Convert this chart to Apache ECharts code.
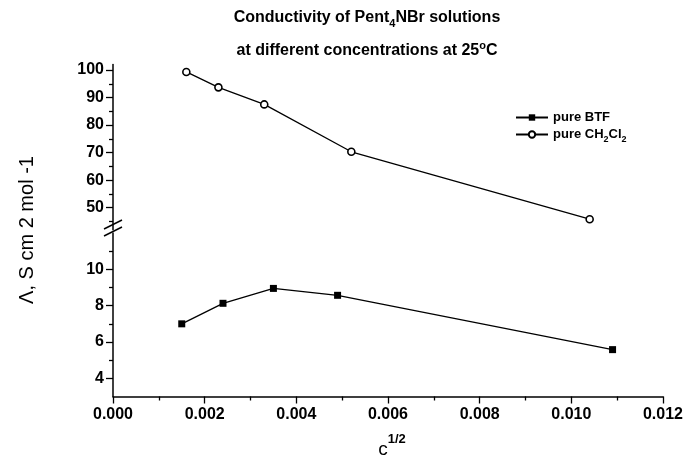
<!DOCTYPE html>
<html><head><meta charset="utf-8">
<script src="https://cdn.jsdelivr.net/npm/echarts@6/dist/echarts.min.js"></script>
<style>html,body{margin:0;padding:0;background:#fff}#c{width:686px;height:457px}</style>
</head><body><div id="c"></div>
<script>
// ---- data ----
const btfX = [0.0015, 0.0024, 0.0035, 0.0049, 0.0109];
const btfY = [7.0, 8.13, 8.95, 8.57, 5.58];
const dcmX = [0.0016, 0.0023, 0.0033, 0.0052, 0.0104];
const dcmY = [99.3, 93.7, 87.5, 70.3, 45.8];
const upperTicks = [50, 60, 70, 80, 90, 100];
const upperMinor = [45, 55, 65, 75, 85, 95];
const lowerTicks = [4, 6, 8, 10];
const lowerMinor = [5, 7, 9, 11];
const seriesNames = ['pure BTF', 'pure CH2Cl2'];

const FONT = 'Liberation Sans, Arial, sans-serif';
const chart = echarts.init(document.getElementById('c'), null, {renderer: 'canvas'});

const L = 113, R = 23;
const upTop = 64.5, upH = 165.2, loTop = 233, loH = 163.5;

function yAx(grid, min, max, ticks, main) {
  return {
    type: 'value', gridIndex: grid, min: min, max: max, position: 'left',
    axisLine: {show: main, lineStyle: {color: '#000', width: 1.5}},
    axisTick: {show: true, customValues: ticks, length: main ? 7 : 4, lineStyle: {color: '#000', width: 1.3}},
    axisLabel: {show: main, customValues: ticks, margin: 9, color: '#000', fontFamily: FONT, fontSize: 16, fontWeight: 'bold'},
    splitLine: {show: false}
  };
}

const option = {
  animation: false,
  backgroundColor: '#fff',
  grid: [
    {left: L, right: R, top: upTop, height: upH},
    {left: L, right: R, top: loTop, height: loH}
  ],
  xAxis: [
    {type: 'value', gridIndex: 0, min: 0, max: 0.012, show: false},
    {type: 'value', gridIndex: 1, min: 0, max: 0.012, interval: 0.002,
     axisLine: {lineStyle: {color: '#000', width: 1.5}},
     axisTick: {length: 7, lineStyle: {color: '#000', width: 1.3}},
     minorTick: {show: true, splitNumber: 2, length: 4, lineStyle: {color: '#000', width: 1.3}},
     axisLabel: {margin: 10, color: '#000', fontFamily: FONT, fontSize: 16, fontWeight: 'bold', formatter: v => v.toFixed(3)},
     splitLine: {show: false}, minorSplitLine: {show: false}}
  ],
  yAxis: [
    yAx(0, 42, 102, upperTicks, true),
    yAx(0, 42, 102, upperMinor, false),
    yAx(1, 3, 12, lowerTicks, true),
    yAx(1, 3, 12, lowerMinor, false)
  ],
  legend: {
    data: seriesNames, orient: 'vertical', left: 510, top: 106, itemGap: 4,
    itemWidth: 32, itemHeight: 8,
    formatter: n => n === 'pure CH2Cl2' ? '{n|pure CH}{s|2}{n|Cl}{s|2}' : '{n|' + n + '}',
    textStyle: {color: '#000', fontFamily: FONT, fontSize: 13, fontWeight: 'bold',
      rich: {n: {fontSize: 13, fontWeight: 'bold', lineHeight: 20, verticalAlign: 'middle', fontFamily: FONT, color: '#000'},
             s: {fontSize: 9, fontWeight: 'bold', lineHeight: 20, verticalAlign: 'bottom', fontFamily: FONT, color: '#000'}}}
  },
  series: [
    {name: seriesNames[0], type: 'line', xAxisIndex: 1, yAxisIndex: 2,
     data: btfX.map((x, i) => [x, btfY[i]]),
     symbol: 'rect', symbolSize: 7,
     itemStyle: {color: '#000'}, lineStyle: {color: '#000', width: 1.3}},
    {name: seriesNames[1], type: 'line', xAxisIndex: 0, yAxisIndex: 0,
     data: dcmX.map((x, i) => [x, dcmY[i]]),
     symbol: 'circle', symbolSize: 7,
     itemStyle: {color: '#fff', borderColor: '#000', borderWidth: 1.6}, lineStyle: {color: '#000', width: 1.3}}
  ],
  graphic: [
    {type: 'text', x: 367, y: 18, style: {
      text: '{a|Conductivity of Pent}{s|4}{a|NBr solutions}', align: 'center', verticalAlign: 'middle',
      rich: {a: {fontSize: 16, fontWeight: 'bold', fontFamily: FONT, fill: '#000', lineHeight: 22, verticalAlign: 'middle'},
             s: {fontSize: 11, fontWeight: 'bold', fontFamily: FONT, fill: '#000', lineHeight: 22, verticalAlign: 'bottom'}}}},
    {type: 'text', x: 367, y: 51, style: {
      text: '{a|at different concentrations at 25}{u|o}{a|C}', align: 'center', verticalAlign: 'middle',
      rich: {a: {fontSize: 16, fontWeight: 'bold', fontFamily: FONT, fill: '#000', lineHeight: 22, verticalAlign: 'middle'},
             u: {fontSize: 11, fontWeight: 'bold', fontFamily: FONT, fill: '#000', lineHeight: 22, verticalAlign: 'top'}}}},
    {type: 'text', x: 27, y: 230, rotation: Math.PI / 2, style: {
      text: 'Λ, S cm 2 mol -1', align: 'center', verticalAlign: 'middle',
      font: '20px ' + FONT, fill: '#000'}},
    {type: 'text', x: 392, y: 446, style: {
      text: '{c|c}{u|1/2}', align: 'center', verticalAlign: 'middle',
      rich: {c: {fontSize: 19, fontFamily: FONT, fill: '#000', lineHeight: 26, verticalAlign: 'bottom'},
             u: {fontSize: 13, fontWeight: 'bold', fontFamily: FONT, fill: '#000', lineHeight: 26, verticalAlign: 'top'}}}},
    {type: 'polygon', shape: {points: [[104, 229], [122, 220], [122, 227], [104, 236]]}, style: {fill: '#fff'}},
    {type: 'line', shape: {x1: 104, y1: 229, x2: 122, y2: 220}, style: {stroke: '#000', lineWidth: 1.5}},
    {type: 'line', shape: {x1: 104, y1: 236, x2: 122, y2: 227}, style: {stroke: '#000', lineWidth: 1.5}}
  ]
};
chart.setOption(option);
</script></body></html>
